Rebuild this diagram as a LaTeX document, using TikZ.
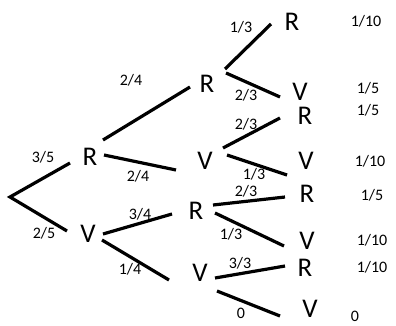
\documentclass[tikz,border=0pt]{standalone}
\usepackage{fontspec}
\setmainfont{Carlito}
\begin{document}
\begin{tikzpicture}[x=1pt,y=-1pt,
  br/.style={line width=3.2pt},
  let/.style={font=\fontsize{27}{27}\selectfont,inner sep=0pt},
  frac/.style={font=\fontsize{16}{16}\selectfont,inner sep=0pt},
  prob/.style={font=\fontsize{16}{16}\selectfont,inner sep=0pt}]
\useasboundingbox (0,0) rectangle (396,326);
% level 1
\coordinate (o) at (10,197);
\coordinate (o1) at (70,163);
\coordinate (o2) at (67,231);
\draw[br] (o1) -- (o) -- (o2);
\node[let] (R1) at (90,157) {R};
\node[let] (V1) at (88,234) {V};
\node[frac] (f1) at (43,157) {3/5};
\node[frac] (f2) at (44,233) {2/5};
% level 2
\coordinate (r1a) at (103,140); \coordinate (r1b) at (190,87);
\coordinate (r1c) at (104,155); \coordinate (r1d) at (176,170);
\coordinate (v1a) at (103,234); \coordinate (v1b) at (172,214);
\coordinate (v1c) at (102,240); \coordinate (v1d) at (169,280);
\draw[br] (r1a) -- (r1b);
\draw[br] (r1c) -- (r1d);
\draw[br] (v1a) -- (v1b);
\draw[br] (v1c) -- (v1d);
\node[frac] (f3) at (131,80) {2/4};
\node[frac] (f4) at (138,176) {2/4};
\node[frac] (f5) at (140,214) {3/4};
\node[frac] (f6) at (130,269) {1/4};
\node[let] (R2) at (207,84) {R};
\node[let] (V2) at (205,161) {V};
\node[let] (R3) at (196,211) {R};
\node[let] (V3) at (200,273) {V};
% level 3
\coordinate (a1) at (225,69); \coordinate (a2) at (271,24);
\coordinate (b1) at (226,73); \coordinate (b2) at (280,97);
\coordinate (c1) at (223,148); \coordinate (c2) at (280,118);
\coordinate (d1) at (227,155); \coordinate (d2) at (287,175);
\coordinate (e1) at (213,205); \coordinate (e2) at (285,197);
\coordinate (g1) at (215,213); \coordinate (g2) at (284,246);
\coordinate (h1) at (215,278); \coordinate (h2) at (285,266);
\coordinate (k1) at (217,291); \coordinate (k2) at (280,316);
\foreach \p in {a,b,c,d,e,g,h,k} {\draw[br] (\p1) -- (\p2);}
\node[frac] (l1) at (241,27) {1/3};
\node[frac] (l2) at (246,95) {2/3};
\node[frac] (l3) at (246,124) {2/3};
\node[frac] (l4) at (254,174) {1/3};
\node[frac] (l5) at (246,191) {2/3};
\node[frac] (l6) at (231,234) {1/3};
\node[frac] (l7) at (240,263) {3/3};
\node[frac] (l8) at (241,313) {0};
% leaves
\node[let] (x1) at (292,22) {R};
\node[let] (x2) at (300,92) {V};
\node[let] (x3) at (305,116) {R};
\node[let] (x4) at (306,161) {V};
\node[let] (x5) at (307,194) {R};
\node[let] (x6) at (307,241) {V};
\node[let] (x7) at (305,268) {R};
\node[let] (x8) at (310,309) {V};
\node[prob] (p1) at (366,21) {1/10};
\node[prob] (p2) at (368,88) {1/5};
\node[prob] (p3) at (368,110) {1/5};
\node[prob] (p4) at (370,161) {1/10};
\node[prob] (p5) at (372,195) {1/5};
\node[prob] (p6) at (372,240) {1/10};
\node[prob] (p7) at (372,267) {1/10};
\node[prob] (p8) at (355,316) {0};
\end{tikzpicture}
\end{document}
